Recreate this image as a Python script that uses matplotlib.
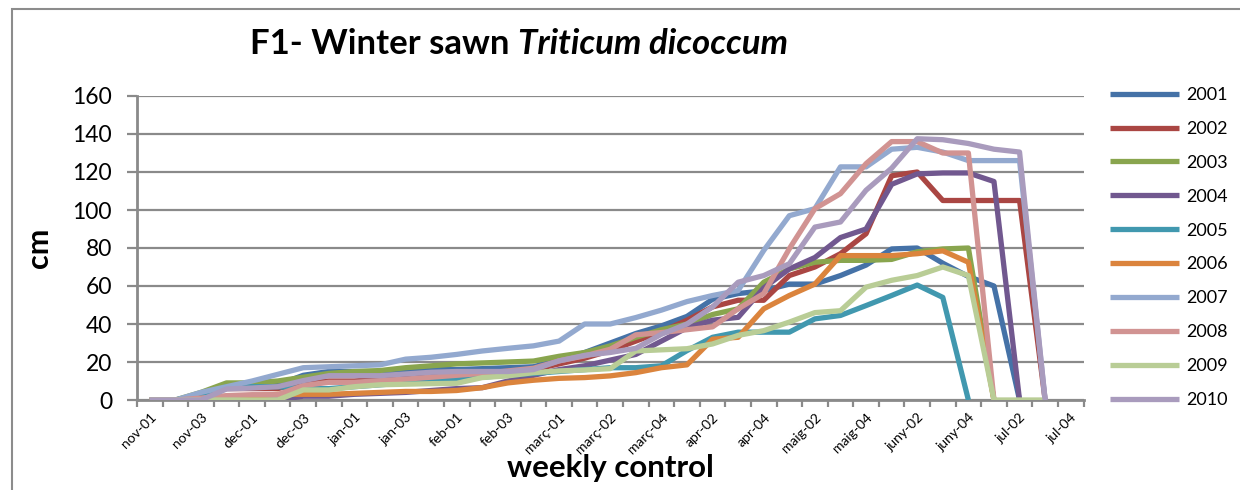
import numpy as np
import matplotlib
matplotlib.use("Agg")
import matplotlib.pyplot as plt
from matplotlib.patches import Rectangle

nan = np.nan

weeks = ["nov-01", "nov-02", "nov-03", "nov-04", "dec-01", "dec-02", "dec-03", "dec-04",
         "jan-01", "jan-02", "jan-03", "jan-04", "feb-01", "feb-02", "feb-03", "feb-04",
         "març-01", "març-01", "març-02", "març-03", "març-04",
         "apr-01", "apr-02", "apr-03", "apr-04",
         "maig-01", "maig-02", "maig-03", "maig-04",
         "juny-01", "juny-02", "juny-03", "juny-04",
         "jul-01", "jul-02", "jul-03", "jul-04"]

years = ["2001", "2002", "2003", "2004", "2005", "2006", "2007", "2008", "2009", "2010"]

y2001 = [0, 0, 3, 8, 8, 8, 13, 15, 15, 15, 15.5, 16,
         16, 16.5, 17, 17.5, 21, 25, 30, 35, 39, 44, 53, 56,
         57.5, 61, 61, 65.5, 71, 79.5, 80, 72, 65, 60, 0, nan,
         nan]
y2002 = [0, 0, 2, 6, 6, 6, 9, 10, 10, 11, 12, 13,
         14, 14.5, 15, 16, 19, 22, 26, 31, 36, 42, 49, 52.5,
         52.5, 65.5, 70, 77, 87.5, 118, 120, 105, 105, 105, 105, 0,
         nan]
y2003 = [0, 0, 4, 9, 9, 10, 12, 14, 15, 15.5, 17, 18,
         19, 19.5, 20, 20.5, 23, 25, 28.5, 33, 37, 40, 45, 48,
         62, 69, 72.5, 73.5, 73.5, 74, 78, 79.5, 80, 0, nan, nan,
         nan]
y2004 = [0, 0, 0, 0, 0, 0, 2, 2, 3, 3.5, 4, 5,
         6, 6.5, 10, 13, 16, 18, 21, 24, 31, 38, 42, 43.5,
         59, 69, 75, 85.5, 90, 113.5, 119, 119.5, 119.5, 115, 0, nan,
         nan]
y2005 = [0, 0, 2, 7, 7, 7, 6, 6, 7, 8, 9, 10,
         11, 12, 13, 14, 15, 16, 17, 17, 18, 26, 33, 35.7,
         35.7, 35.7, 42.7, 44.5, 49.7, 55, 60.5, 54, 0, nan, nan, nan,
         nan]
y2006 = [0, 0, 0, 2, 2, 3, 3, 3, 3.5, 4, 4.5, 4.5,
         5, 6.5, 9, 10.4, 11.4, 11.8, 12.7, 14.4, 17, 18.5, 32, 33,
         48, 55, 61, 76, 76, 76, 77, 78.5, 72.5, 0, nan, nan,
         nan]
y2007 = [0, 0, 4, 7, 10, 13.5, 17, 17.5, 18, 18.5, 21.5, 22.5,
         24, 25.8, 27.2, 28.5, 31, 40, 40, 43.4, 47.3, 51.8, 55, 57.6,
         78.7, 97, 100.7, 122.7, 122.7, 132, 133, 130.5, 126, 126, 126, 0,
         nan]
y2008 = [0, 0, 1, 2.3, 2.8, 2.8, 7.6, 9.3, 9.3, 10.2, 11, 12,
         13, 14, 15.3, 16.7, 20.6, 23.2, 26.7, 34.3, 35.5, 37, 38.5, 48,
         56, 79.6, 100.7, 108.6, 124.4, 136, 136, 130, 130, 0, nan, nan,
         nan]
y2009 = [0, 0, 0, 0, 0, 0, 5.3, 5.3, 7, 8, 8.3, 8.6,
         8.8, 11.8, 12.7, 14.4, 15.3, 15.8, 16.5, 25.8, 26.4, 27, 29.5, 34,
         36.5, 41, 46, 47, 59.4, 63, 65.5, 70, 65.5, 0, 0, 0,
         nan]
y2010 = [0, 0, 0, 5.8, 6.3, 7, 10.2, 12.8, 12.8, 12.8, 13.7, 14.6,
         15, 15, 15, 16, 20.6, 23.5, 25, 27.2, 34.6, 40, 49, 62,
         65.5, 71.7, 91, 93.7, 110.4, 122, 137.5, 137, 135, 132, 130.5, 0,
         nan]

series = [y2001, y2002, y2003, y2004, y2005, y2006, y2007, y2008, y2009, y2010]
colors = ["#4572A7", "#AA4643", "#89A54E", "#71588F", "#4198AF",
          "#DB843D", "#93A9CF", "#D19392", "#B9CD96", "#A99BBD"]

plt.rcParams['font.family'] = ['Lato', 'DejaVu Sans']

W, H = 1240, 490
fig = plt.figure(figsize=(W / 100, H / 100), dpi=100)
fig.patch.set_facecolor("white")

# outer chart border
fig.add_artist(Rectangle((12 / W, -0.05), 1.2, (H - 9) / H + 0.05,
                         transform=fig.transFigure, fill=False,
                         edgecolor="#8c8c8c", linewidth=1.5))

left, right, top, bottom = 137, 1083.5, 96, 400
ax = fig.add_axes([left / W, 1 - bottom / H, (right - left) / W, (bottom - top) / H])

x = np.arange(len(weeks))
grid_c = "#8a8a8a"
handles = []
for i, (ys, c, lab) in enumerate(zip(series, colors, years)):
    h, = ax.plot(x, ys, color=c, linewidth=3.8, label=lab,
                 solid_joinstyle="round", solid_capstyle="butt", zorder=3 + i)
    handles.append(h)

ax.set_xlim(-0.5, len(weeks) - 0.5)
ax.set_ylim(0, 160)
ax.set_yticks(np.arange(0, 161, 20))
ax.yaxis.grid(True, color=grid_c, linewidth=1.6, zorder=0)
ax.set_axisbelow(True)

for s in ["top", "right"]:
    ax.spines[s].set_visible(False)
for s in ["left", "bottom"]:
    ax.spines[s].set_color(grid_c)
    ax.spines[s].set_linewidth(2)
    ax.spines[s].set_zorder(2)

ax.tick_params(axis="y", colors=grid_c, length=7, width=1.6, labelsize=16.5,
               labelcolor="black", pad=11)

ax.set_xticks(x[::2])
ax.set_xticklabels(weeks[::2], rotation=45, ha="right", rotation_mode="anchor",
                   fontsize=10)
ax.set_xticks(np.arange(-0.5, len(weeks) + 0.5, 1), minor=True)
ax.tick_params(axis="x", which="major", length=0, pad=8)
ax.tick_params(axis="x", which="minor", colors=grid_c, length=5, width=1.6)

ax.set_ylabel("cm", fontsize=22, fontweight="bold", labelpad=14)
ax.set_xlabel("weekly control", fontsize=22.5, fontweight="bold", labelpad=-1)

ax.legend(handles=handles, loc="upper left", bbox_to_anchor=(1110 / W, 1 - 87 / H),
          bbox_transform=fig.transFigure, frameon=False, fontsize=13,
          handlelength=3.8, handletextpad=0.4, labelspacing=0.99,
          borderaxespad=0, borderpad=0)

# title in two parts
fig.canvas.draw()
t1 = fig.text(250 / W, 1 - 54 / H, "F1- Winter sawn ", fontsize=25, fontweight="bold",
              ha="left", va="baseline")
fig.canvas.draw()
bb = t1.get_window_extent()
fig.text(bb.x1 / W, 1 - 54 / H, "Triticum dicoccum", fontsize=25, fontweight="bold",
         style="italic", ha="left", va="baseline")

fig.savefig("out.png", dpi=100, facecolor="white")
